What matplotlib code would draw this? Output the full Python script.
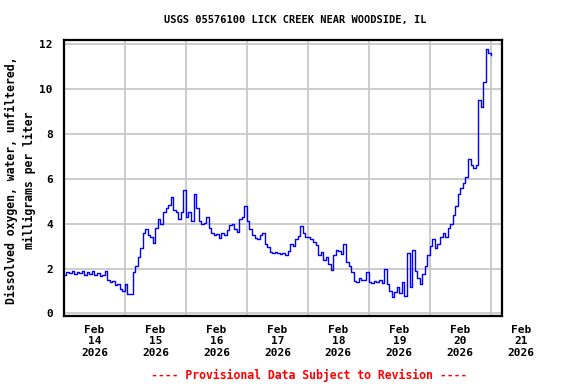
import numpy as np
import pandas as pd
import matplotlib
matplotlib.use("Agg")
import matplotlib.pyplot as plt
import matplotlib.dates as mdates

#################################################################################
# data: hourly dissolved oxygen (mg/L)
#################################################################################
START = "2026-02-14 00:00"
DO_FEB14 = [1.7, 1.85, 1.8, 1.9, 1.75, 1.85, 1.8, 1.9, 1.7, 1.85, 1.75, 1.9,
            1.7, 1.8, 1.65, 1.7, 1.9, 1.5, 1.4, 1.45, 1.25, 1.3, 1.1, 1.0]
DO_FEB15 = [1.3, 0.85, 0.85, 1.85, 2.1, 2.5, 2.9, 3.6, 3.75, 3.5, 3.4, 3.15,
            3.8, 4.2, 4.0, 4.5, 4.7, 4.85, 5.2, 4.6, 4.5, 4.2, 4.5, 5.5]
DO_FEB16 = [4.3, 4.5, 4.1, 5.3, 4.7, 4.1, 4.0, 4.05, 4.3, 3.8, 3.6, 3.5,
            3.55, 3.35, 3.6, 3.5, 3.7, 3.95, 4.0, 3.75, 3.65, 4.2, 4.3, 4.8]
DO_FEB17 = [4.1, 3.75, 3.5, 3.35, 3.3, 3.5, 3.6, 3.1, 2.95, 2.75, 2.7, 2.75,
            2.7, 2.65, 2.7, 2.6, 2.8, 3.1, 3.0, 3.3, 3.45, 3.9, 3.6, 3.4]
DO_FEB18 = [3.4, 3.3, 3.2, 3.05, 2.6, 2.75, 2.4, 2.5, 2.2, 1.95, 2.6, 2.85,
            2.8, 2.65, 3.1, 2.3, 2.1, 1.85, 1.45, 1.4, 1.6, 1.5, 1.5, 1.85]
DO_FEB19 = [1.4, 1.35, 1.45, 1.4, 1.5, 1.35, 2.0, 1.3, 1.0, 0.75, 0.95, 1.2,
            0.9, 1.4, 0.8, 2.7, 1.2, 2.85, 1.9, 1.6, 1.3, 1.75, 2.1, 2.6]
DO_FEB20 = [3.0, 3.3, 2.9, 3.1, 3.4, 3.6, 3.4, 3.8, 4.0, 4.4, 4.8, 5.3,
            5.6, 5.8, 6.1, 6.9, 6.6, 6.5, 6.6, 9.5, 9.2, 10.3, 11.8, 11.6, 11.5]

Y_TICKS = [0, 2, 4, 6, 8, 10, 12]
TITLE = "USGS 05576100 LICK CREEK NEAR WOODSIDE, IL"
YLABEL = "Dissolved oxygen, water, unfiltered,\nmilligrams per liter"
FOOTER = "---- Provisional Data Subject to Revision ----"

values = DO_FEB14 + DO_FEB15 + DO_FEB16 + DO_FEB17 + DO_FEB18 + DO_FEB19 + DO_FEB20
times = pd.date_range(START, periods=len(values), freq="h")

#################################################################################
# plot
#################################################################################
plt.rcParams["font.family"] = "DejaVu Sans Mono"
plt.rcParams["font.weight"] = "bold"
plt.rcParams["font.size"] = 8

fig = plt.figure(figsize=(5.76, 3.84), dpi=100)
ax = fig.add_axes([0.111, 0.176, 0.761, 0.721])

ax.plot(times, values, color="#0000ff", lw=1.0, drawstyle="steps-post")

day0 = pd.Timestamp(START)
days = pd.date_range(day0, periods=8, freq="D")

ax.set_xticks(days)
ax.set_xticklabels([])
ax.set_yticks(Y_TICKS)
ax.set_yticklabels([str(t) for t in Y_TICKS])
# limits after ticks so set_xticks does not widen the view
ax.set_xlim(day0, day0 + pd.Timedelta(hours=172.5))
ax.set_ylim(-0.13, 12.2)

# day labels centred at noon, the last one hangs past the frame
for d in days:
    xnum = mdates.date2num(d + pd.Timedelta(hours=12))
    ax.annotate(d.strftime("%b\n%d\n%Y"), xy=(xnum, 0),
                xycoords=ax.get_xaxis_transform(), xytext=(0, -6),
                textcoords="offset points", ha="center", va="top",
                linespacing=1.2, annotation_clip=False)

ax.grid(True, which="major", color="#c8c8c8", lw=1.3)
ax.tick_params(which="both", length=0)
ax.tick_params(axis="y", pad=8)
for s in ax.spines.values():
    s.set_linewidth(1.6)
ax.set_axisbelow(True)

fig.text(0.512, 0.947, TITLE, ha="center", va="center", fontsize=7.5)
fig.text(0.035, 0.53, YLABEL, ha="center", va="center", rotation=90,
         fontsize=8.3, linespacing=1.45, multialignment="center")
fig.text(0.537, 0.023, FOOTER, ha="center", va="center", color="red", fontsize=8.3)

fig.savefig("out.png", dpi=100)
